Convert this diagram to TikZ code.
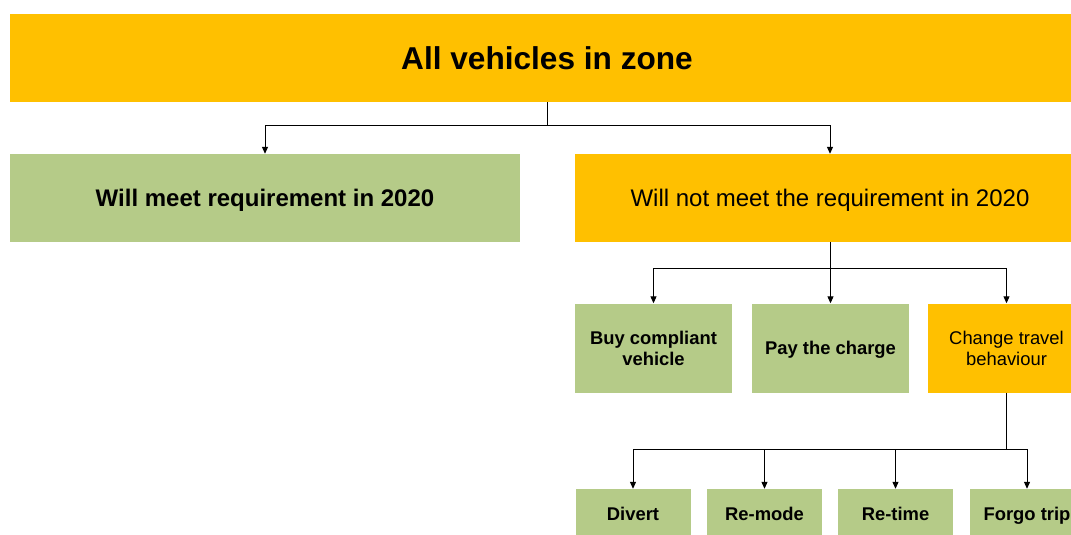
\documentclass[tikz,border=0pt]{standalone}
\usepackage{fontspec}
\setmainfont{Liberation Sans}
\usetikzlibrary{arrows.meta}
\definecolor{orng}{HTML}{FFC000}
\definecolor{grn}{HTML}{B5CB88}
\begin{document}
\begin{tikzpicture}[x=1pt,y=-1pt,
  box/.style={rectangle,inner sep=0pt,align=center,text=black,text depth=0pt},
  obox/.style={box,fill=orng},
  gbox/.style={box,fill=grn},
  big/.style={font=\fontsize{31.6}{38}\selectfont\bfseries},
  mid/.style={font=\fontsize{24}{29}\selectfont},
  sml/.style={font=\fontsize{18.4}{21}\selectfont},
  conn/.style={draw=black,line width=1pt},
  arr/.style={conn,-{Triangle[length=7pt,width=6pt]}}]
\clip (0,0) rectangle (1071,535);
\fill[white] (0,0) rectangle (1071,535);
\node[obox,big,minimum width=1074pt,minimum height=88pt] (top) at (547,58) {All vehicles in zone};
\node[gbox,mid,minimum width=510pt,minimum height=88pt] (left) at (265,198) {\bfseries Will meet requirement in 2020};
\node[obox,mid,minimum width=510pt,minimum height=88pt] (right) at (830,198) {Will not meet the requirement in 2020};
\node[gbox,sml,minimum width=157pt,minimum height=89pt] (buy) at (653.5,348) {\bfseries Buy compliant\\\bfseries vehicle};
\node[gbox,sml,minimum width=157pt,minimum height=89pt] (pay) at (830.5,348) {\bfseries Pay the charge};
\node[obox,sml,minimum width=157pt,minimum height=89pt] (change) at (1006.5,348) {Change travel\\behaviour};
\node[gbox,sml,minimum width=115pt,minimum height=50pt] (divert) at (633,514) {\bfseries Divert};
\node[gbox,sml,minimum width=115pt,minimum height=50pt] (remode) at (764.5,514) {\bfseries Re-mode};
\node[gbox,sml,minimum width=115pt,minimum height=50pt] (retime) at (895.5,514) {\bfseries Re-time};
\node[gbox,sml,minimum width=115pt,minimum height=50pt] (forgo) at (1027,514) {\bfseries Forgo trip};
\coordinate (j1) at (547,125);
\coordinate (j2) at (830,268);
\coordinate (j3) at (1006.5,449);
\draw[conn] (top.south) -- (j1);
\draw[arr] (j1) -| (left.north);
\draw[arr] (j1) -| (right.north);
\draw[conn] (right.south) -- (j2);
\draw[arr] (j2) -| (buy.north);
\draw[arr] (j2) -| (pay.north);
\draw[arr] (j2) -| (change.north);
\draw[conn] (change.south) -- (j3);
\draw[arr] (j3) -| (divert.north);
\draw[arr] (j3) -| (remode.north);
\draw[arr] (j3) -| (retime.north);
\draw[arr] (j3) -| (forgo.north);
\end{tikzpicture}
\end{document}
